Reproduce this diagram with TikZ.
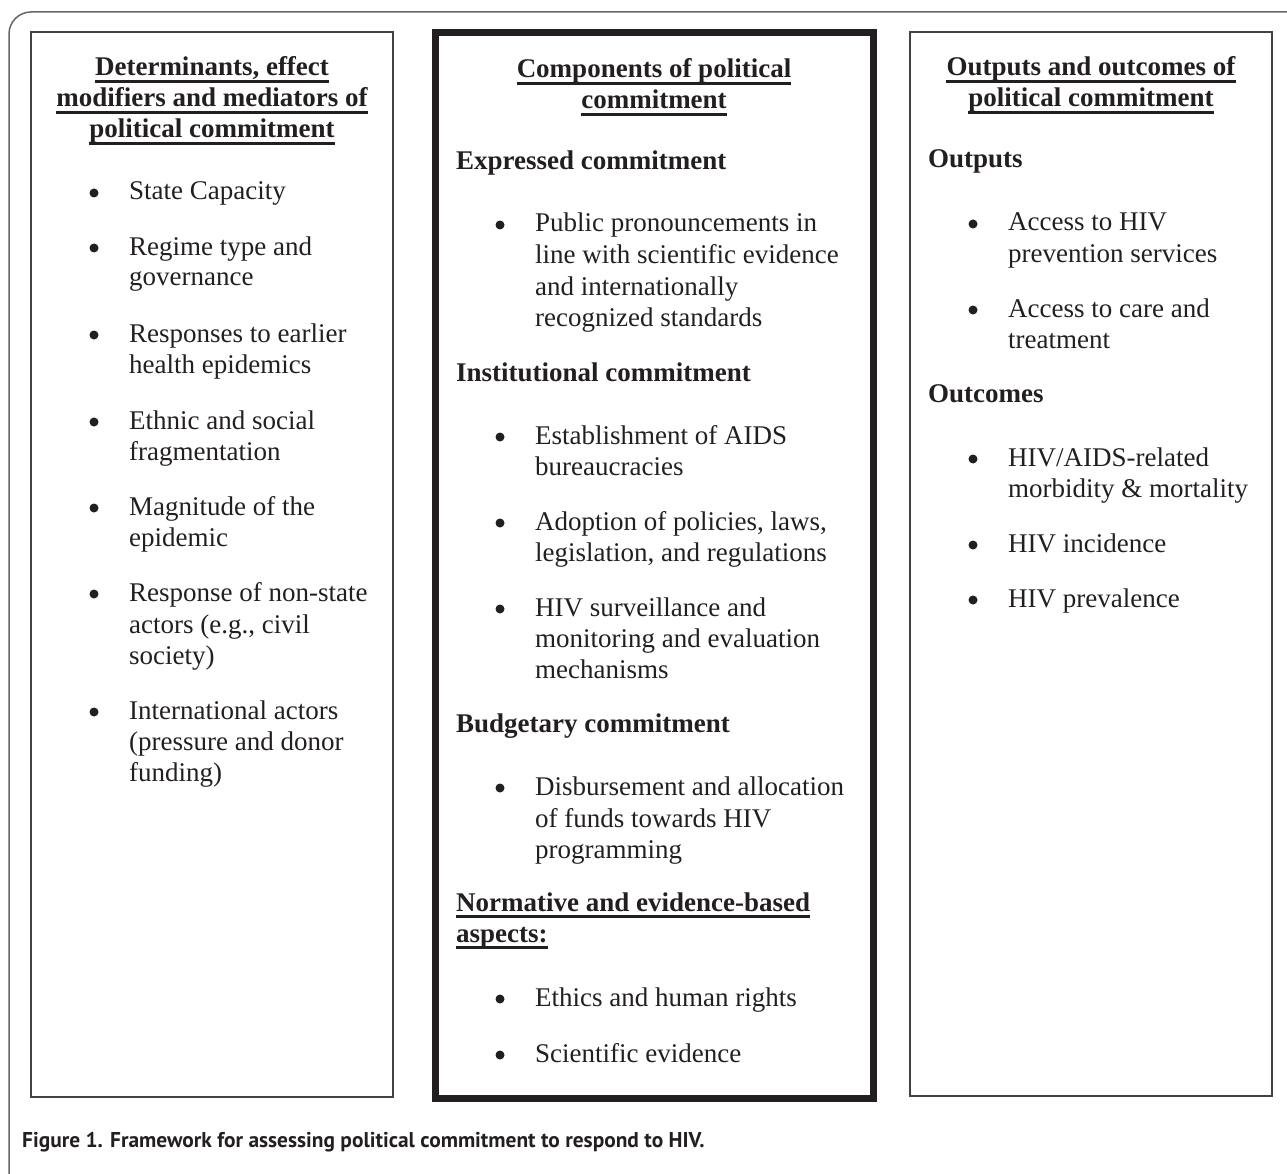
\documentclass[tikz,border=0pt]{standalone}
\usepackage{fontspec}
\setmainfont{Liberation Serif}
\newfontfamily\capfont{PT Sans}
\definecolor{ink}{HTML}{231F20}
\tikzset{
  txt/.style={anchor=base west, inner sep=0pt, font=\fontsize{27}{31}\selectfont, text=ink},
  subhd/.style={anchor=base west, inner sep=0pt, font=\fontsize{27}{31}\selectfont\bfseries, text=ink},
  colhd/.style={anchor=base, inner sep=0pt, font=\fontsize{27}{31}\selectfont\bfseries, text=ink},
  bul/.style={circle, fill=ink, inner sep=0pt, minimum size=9pt, yshift=7pt},
  uln/.style={draw=ink, line width=2.4pt},
  thinbox/.style={draw=ink!85, line width=2pt},
  thickbox/.style={draw=ink, line width=7pt},
  outerframe/.style={draw=black!60, line width=1.5pt, rounded corners=22pt},
  captext/.style={anchor=base west, inner sep=0pt, font=\capfont\bfseries\fontsize{21.4}{25}\selectfont, text=ink},
}
\begin{document}
\begin{tikzpicture}[x=1pt,y=1pt]
\useasboundingbox (0,0) rectangle (1287,-1174);
\begin{scope}
  \clip (0,0) rectangle (1287,-1174);
  \draw[outerframe] (9,-1300) -- (9,-12) -- (1400,-12);
\end{scope}
% boxes
\draw[thinbox] (31,-32) rectangle (393,-1097);
\draw[thickbox] (435.5,-33) rectangle (873.5,-1098.5);
\draw[thinbox] (910,-32) rectangle (1272,-1096);

% ---------- left column ----------
\node[colhd] (lh1) at (212,-76) {Determinants, effect};
\node[colhd] (lh2) at (212,-107) {modifiers and mediators of};
\node[colhd] (lh3) at (212,-138) {political commitment};
\foreach \n in {lh1,lh2,lh3}{\draw[uln] ([yshift=-5.5pt]\n.base west) -- ([yshift=-5.5pt]\n.base east);}

\node[bul] (lb1) at (94,-200) {};
\node[txt] (l1) at (129,-200) {State Capacity};
\node[bul] (lb2) at (94,-255) {};
\node[txt] (l2a) at (129,-255) {Regime type and};
\node[txt] (l2b) at (129,-286) {governance};
\node[bul] (lb3) at (94,-342) {};
\node[txt] (l3a) at (129,-342) {Responses to earlier};
\node[txt] (l3b) at (129,-373) {health epidemics};
\node[bul] (lb4) at (94,-429) {};
\node[txt] (l4a) at (129,-429) {Ethnic and social};
\node[txt] (l4b) at (129,-460) {fragmentation};
\node[bul] (lb5) at (94,-515) {};
\node[txt] (l5a) at (129,-515) {Magnitude of the};
\node[txt] (l5b) at (129,-546) {epidemic};
\node[bul] (lb6) at (94,-601) {};
\node[txt] (l6a) at (129,-601) {Response of non-state};
\node[txt] (l6b) at (129,-633) {actors (e.g., civil};
\node[txt] (l6c) at (129,-664) {society)};
\node[bul] (lb7) at (94,-719) {};
\node[txt] (l7a) at (129,-719) {International actors};
\node[txt] (l7b) at (129,-750) {(pressure and donor};
\node[txt] (l7c) at (129,-781) {funding)};

% ---------- middle column ----------
\node[colhd] (mh1) at (654,-78) {Components of political};
\node[colhd] (mh2) at (654,-109) {commitment};
\foreach \n in {mh1,mh2}{\draw[uln] ([yshift=-5.5pt]\n.base west) -- ([yshift=-5.5pt]\n.base east);}

\node[subhd] (ms1) at (456,-170) {Expressed commitment};
\node[bul] (mb1) at (500,-232) {};
\node[txt] (m1a) at (535,-232) {Public pronouncements in};
\node[txt] (m1b) at (535,-264) {line with scientific evidence};
\node[txt] (m1c) at (535,-295) {and internationally};
\node[txt] (m1d) at (535,-326) {recognized standards};

\node[subhd] (ms2) at (456,-381) {Institutional commitment};
\node[bul] (mb2) at (500,-444) {};
\node[txt] (m2a) at (535,-444) {Establishment of AIDS};
\node[txt] (m2b) at (535,-475) {bureaucracies};
\node[bul] (mb3) at (500,-530) {};
\node[txt] (m3a) at (535,-530) {Adoption of policies, laws,};
\node[txt] (m3b) at (535,-561) {legislation, and regulations};
\node[bul] (mb4) at (500,-616) {};
\node[txt] (m4a) at (535,-616) {HIV surveillance and};
\node[txt] (m4b) at (535,-647) {monitoring and evaluation};
\node[txt] (m4c) at (535,-678) {mechanisms};

\node[subhd] (ms3) at (456,-732) {Budgetary commitment};
\node[bul] (mb5) at (500,-795) {};
\node[txt] (m5a) at (535,-795) {Disbursement and allocation};
\node[txt] (m5b) at (535,-827) {of funds towards HIV};
\node[txt] (m5c) at (535,-858) {programming};

\node[subhd] (ms4a) at (456,-911) {Normative and evidence-based};
\node[subhd] (ms4b) at (456,-942) {aspects:};
\foreach \n in {ms4a,ms4b}{\draw[uln] ([yshift=-5.5pt]\n.base west) -- ([yshift=-5.5pt]\n.base east);}
\node[bul] (mb6) at (500,-1006) {};
\node[txt] (m6) at (535,-1006) {Ethics and human rights};
\node[bul] (mb7) at (500,-1062) {};
\node[txt] (m7) at (535,-1062) {Scientific evidence};

% ---------- right column ----------
\node[colhd] (rh1) at (1091,-76) {Outputs and outcomes of};
\node[colhd] (rh2) at (1091,-107) {political commitment};
\foreach \n in {rh1,rh2}{\draw[uln] ([yshift=-5.5pt]\n.base west) -- ([yshift=-5.5pt]\n.base east);}

\node[subhd] (rs1) at (928,-168) {Outputs};
\node[bul] (rb1) at (973,-231) {};
\node[txt] (r1a) at (1008,-231) {Access to HIV};
\node[txt] (r1b) at (1008,-262) {prevention services};
\node[bul] (rb2) at (973,-317) {};
\node[txt] (r2a) at (1008,-317) {Access to care and};
\node[txt] (r2b) at (1008,-348) {treatment};

\node[subhd] (rs2) at (928,-402) {Outcomes};
\node[bul] (rb3) at (973,-466) {};
\node[txt] (r3a) at (1008,-466) {HIV/AIDS-related};
\node[txt] (r3b) at (1008,-497) {morbidity \& mortality};
\node[bul] (rb4) at (973,-552) {};
\node[txt] (r4) at (1008,-552) {HIV incidence};
\node[bul] (rb5) at (973,-607) {};
\node[txt] (r5) at (1008,-607) {HIV prevalence};

% ---------- caption ----------
\node[captext] (caption) at (22,-1147) {Figure 1. Framework for assessing political commitment to respond to HIV.};
\end{tikzpicture}
\end{document}
